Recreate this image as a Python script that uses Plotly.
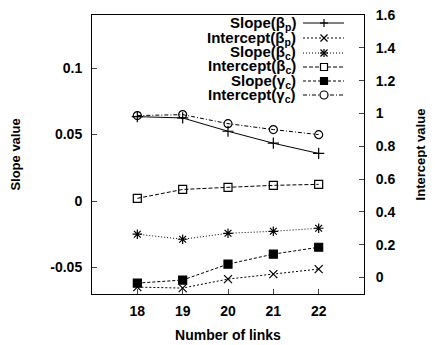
import plotly.graph_objects as go

links = [18, 19, 20, 21, 22]
slope_beta_p = [0.0635, 0.0625, 0.0525, 0.0435, 0.0358]
intercept_beta_p = [-0.058, -0.064, -0.009, 0.021, 0.052]
slope_beta_c = [-0.025, -0.0288, -0.0243, -0.0228, -0.0205]
intercept_beta_c = [0.483, 0.537, 0.550, 0.562, 0.568]
slope_gamma_c = [-0.0618, -0.0595, -0.0475, -0.040, -0.0348]
intercept_gamma_c = [0.987, 0.993, 0.938, 0.902, 0.871]

names = ["Slope(β<sub>p</sub>)", "Intercept(β<sub>p</sub>)", "Slope(β<sub>c</sub>)",
         "Intercept(β<sub>c</sub>)", "Slope(γ<sub>c</sub>)", "Intercept(γ<sub>c</sub>)"]

dashes = ["solid", "2px,2px", "1px,2px", "4px,2px", "3px,2px", "4px,2px,1px,2px"]
symbols = ["cross-thin-open", "x-thin-open", "asterisk-open", "square-open", "square", "circle-open"]
axes = ["y", "y2", "y", "y2", "y", "y2"]
values = [slope_beta_p, intercept_beta_p, slope_beta_c, intercept_beta_c, slope_gamma_c, intercept_gamma_c]

fig = go.Figure()
for name, vals, ax, dash, sym in zip(names, values, axes, dashes, symbols):
    fig.add_trace(go.Scatter(
        x=links, y=vals, yaxis=ax, name=name, mode="lines+markers", showlegend=False,
        line=dict(color="black", width=1, dash=dash),
        marker=dict(symbol=sym, size=8, color="black", line=dict(color="black", width=1.2)),
    ))

# The page body adds an 8px offset, so the figure is 8px smaller than the window.
OFF = 8
plot_l, plot_t, plot_w, plot_h = 92 - OFF, 15 - OFF, 272, 279
def px(x):
    return (x - OFF - plot_l) / plot_w
def py(y):
    return 1 - (y - OFF - plot_t) / plot_h

# ---- gnuplot-style key (text right-aligned, sample on the right) ----
row_y = [23, 38, 53, 67, 81, 95]
text_right = px(298)
line_x0, line_x1, mark_x = px(303), px(344), px(324)

shapes = []
annotations = []
for i, (name, dash) in enumerate(zip(names, dashes)):
    yy = py(row_y[i])
    annotations.append(dict(xref="paper", yref="paper", x=text_right, y=yy, text=name,
                            xanchor="right", yanchor="middle", showarrow=False,
                            font=dict(size=15)))
    shapes.append(dict(type="line", xref="paper", yref="paper", x0=line_x0, x1=line_x1,
                       y0=yy, y1=yy, line=dict(color="black", width=1, dash=dash)))
    common = dict(xref="paper", yref="paper", xsizemode="pixel", ysizemode="pixel",
                  xanchor=mark_x, yanchor=yy)
    lw = dict(color="black", width=1.2)
    sym = symbols[i]
    if sym in ("cross-thin-open", "asterisk-open"):
        shapes.append(dict(type="line", x0=-4, x1=4, y0=0, y1=0, line=lw, **common))
        shapes.append(dict(type="line", x0=0, x1=0, y0=-4, y1=4, line=lw, **common))
    if sym in ("x-thin-open", "asterisk-open"):
        shapes.append(dict(type="line", x0=-3.5, x1=3.5, y0=-3.5, y1=3.5, line=lw, **common))
        shapes.append(dict(type="line", x0=-3.5, x1=3.5, y0=3.5, y1=-3.5, line=lw, **common))
    if sym == "square-open":
        shapes.append(dict(type="rect", x0=-3.5, x1=3.5, y0=-3.5, y1=3.5, line=lw,
                           fillcolor="white", **common))
    if sym == "square":
        shapes.append(dict(type="rect", x0=-3.5, x1=3.5, y0=-3.5, y1=3.5, line=lw,
                           fillcolor="black", **common))
    if sym == "circle-open":
        shapes.append(dict(type="circle", x0=-4, x1=4, y0=-4, y1=4, line=lw,
                           fillcolor="white", **common))

font = dict(family="Liberation Sans, Arial, sans-serif", size=14, color="black", weight="bold")

W, H = 435 - OFF, 345 - OFF
fig.update_layout(
    width=W, height=H,
    margin=dict(l=plot_l, r=W - plot_l - plot_w, t=plot_t, b=H - plot_t - plot_h),
    paper_bgcolor="white", plot_bgcolor="white",
    font=font,
    showlegend=False,
    shapes=shapes,
    annotations=annotations,
    xaxis=dict(range=[17, 23], tickvals=links, ticks="inside", ticklen=5,
               showline=True, linecolor="black", linewidth=1, mirror=True,
               showgrid=False, zeroline=False, automargin=False, ticklabelstandoff=4,
               title=dict(text="Number of links", font=dict(size=14), standoff=12)),
    yaxis=dict(range=[-0.07, 0.14], tickvals=[-0.05, 0, 0.05, 0.1],
               ticktext=["-0.05", "0", "0.05", "0.1"], ticks="inside", ticklen=5,
               showline=True, linecolor="black", linewidth=1, automargin=False,
               showgrid=False, zeroline=False, ticklabelstandoff=6,
               ticklabeloverflow="allow",
               title=dict(text="Slope value", font=dict(size=13), standoff=32)),
    yaxis2=dict(range=[-0.1, 1.6], overlaying="y", side="right",
                tickvals=[0, 0.2, 0.4, 0.6, 0.8, 1, 1.2, 1.4, 1.6],
                ticktext=["0", "0.2", "0.4", "0.6", "0.8", "1", "1.2", "1.4", "1.6"],
                ticks="inside", ticklen=5, automargin=False,
                showline=True, linecolor="black", linewidth=1,
                showgrid=False, zeroline=False, ticklabelstandoff=8,
                ticklabeloverflow="allow",
                title=dict(text="Intercept value", font=dict(size=13), standoff=21)),
)

fig.write_html("out.html")
